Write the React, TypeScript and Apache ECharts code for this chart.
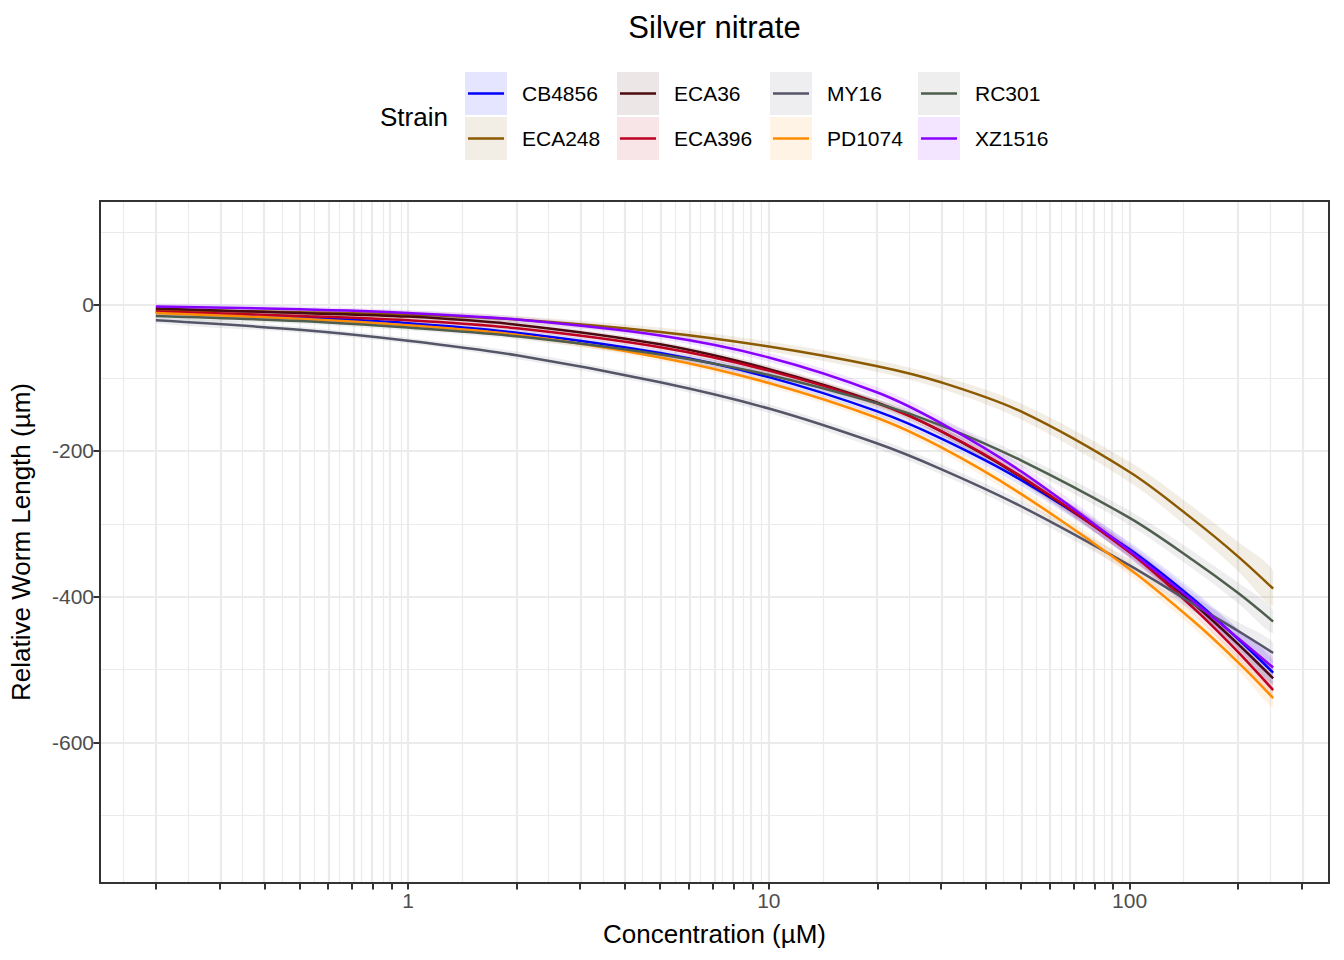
import React, { useEffect, useRef } from "react";
import * as echarts from "echarts";

// ---- data ----
const concentrations = [0.2, 0.5, 1, 2, 5, 10, 20, 30, 50, 100, 150, 200, 250];

const strains = ["CB4856", "ECA248", "ECA36", "ECA396", "MY16", "PD1074", "RC301", "XZ1516"];
const strainColors = ["#0000FF", "#8B5A00", "#4A0A10", "#BE0022", "#555568", "#FF8C00", "#4E5D4E", "#8800FF"];

const CB4856 = [-10, -17, -25, -38, -66, -99, -146, -183, -240, -335, -403, -458, -504];
const ECA248 = [-7, -10, -13, -20, -37, -57, -84, -106, -146, -229, -294, -345, -389];
const ECA36 = [-5, -11, -16, -27, -54, -88, -134, -173, -236, -338, -409, -465, -512];
const ECA396 = [-9, -15, -21, -32, -58, -90, -135, -173, -235, -339, -415, -476, -528];
const MY16 = [-21, -34, -49, -69, -106, -142, -190, -225, -276, -357, -410, -447, -477];
const PD1074 = [-11, -19, -28, -41, -72, -107, -155, -195, -259, -362, -433, -490, -539];
const RC301 = [-15, -22, -31, -43, -68, -96, -135, -165, -213, -292, -350, -395, -434];
const XZ1516 = [-2, -6, -11, -20, -42, -72, -120, -162, -228, -337, -406, -457, -497];

// confidence band half-widths (µm)
const bandCB4856 = [4, 4, 4, 4, 5, 6, 6, 7, 8, 10, 12, 14, 16];
const bandECA248 = [5, 5, 5, 5, 6, 7, 8, 9, 11, 14, 17, 20, 24];
const bandECA36 = [4, 4, 4, 4, 4, 5, 5, 6, 7, 8, 9, 10, 11];
const bandECA396 = [4, 4, 4, 4, 4, 5, 5, 6, 7, 8, 9, 10, 11];
const bandMY16 = [4, 4, 4, 5, 5, 6, 7, 7, 8, 9, 10, 12, 14];
const bandPD1074 = [4, 4, 4, 4, 5, 5, 6, 7, 8, 9, 10, 11, 13];
const bandRC301 = [4, 4, 4, 4, 5, 5, 6, 7, 8, 10, 12, 14, 16];
const bandXZ1516 = [4, 4, 4, 4, 5, 6, 7, 8, 9, 10, 11, 12, 14];

const strainValues = [CB4856, ECA248, ECA36, ECA396, MY16, PD1074, RC301, XZ1516];
const strainBands = [bandCB4856, bandECA248, bandECA36, bandECA396, bandMY16, bandPD1074, bandRC301, bandXZ1516];

// axis breaks
const xBreaks = [0.2, 0.3, 0.4, 0.5, 0.6, 0.7, 0.8, 0.9, 1, 2, 3, 4, 5, 6, 7, 8, 9, 10, 20, 30, 40, 50, 60, 70, 80, 90, 100, 200, 300];
const xLabelValues = [1, 10, 100];
const xLabelText = ["1", "10", "100"];
const yBreaks = [-600, -400, -200, 0];
const yLabelText = ["-600", "-400", "-200", "0"];
const yMinorBreaks = [-700, -500, -300, -100, 100];
const yLimits = [-750, 100];

const FONT = "'Liberation Sans', Arial, Helvetica, sans-serif";
const SMOOTH = 0.33;

function rgba(hex: string, a: number) {
  const h = hex.replace("#", "");
  const r = parseInt(h.slice(0, 2), 16);
  const g = parseInt(h.slice(2, 4), 16);
  const b = parseInt(h.slice(4, 6), 16);
  return `rgba(${r},${g},${b},${a})`;
}

export default function App() {
  const ref = useRef<HTMLDivElement>(null);

  useEffect(() => {
    const el = ref.current!;
    const chart = echarts.init(el, null, { renderer: "svg" });

    const GRID = { left: 100, top: 201, right: 15, bottom: 77 };
    const W = 1344;
    const H = 960;

    const lx = concentrations.map((c) => Math.log10(c));
    const xLo = lx[0];
    const xHi = lx[lx.length - 1];
    const xExp = (xHi - xLo) * 0.05;
    const xMin = xLo - xExp;
    const xMax = xHi + xExp;
    const yExp = (yLimits[1] - yLimits[0]) * 0.05;
    const yMin = yLimits[0] - yExp;
    const yMax = yLimits[1] + yExp;

    const xMajor = xBreaks.map((b) => Math.log10(b));
    // minor breaks: midpoints between majors (incl. one extended break each side)
    const ext = [xMajor[0] - (xMajor[1] - xMajor[0]), ...xMajor, xMajor[xMajor.length - 1] + (xMajor[xMajor.length - 1] - xMajor[xMajor.length - 2])];
    const xMinor: number[] = [];
    for (let i = 0; i < ext.length - 1; i++) {
      const m = (ext[i] + ext[i + 1]) / 2;
      if (m > xMin && m < xMax) xMinor.push(m);
    }

    const gridColor = "#EBEBEB";
    const markData: any[] = [
      ...xMinor.map((v) => ({ xAxis: v, lineStyle: { color: gridColor, width: 1.2, type: "solid" } })),
      ...yMinorBreaks.map((v) => ({ yAxis: v, lineStyle: { color: gridColor, width: 1.2, type: "solid" } })),
      ...xMajor.map((v) => ({ xAxis: v, lineStyle: { color: gridColor, width: 2.2, type: "solid" } })),
      ...yBreaks.map((v) => ({ yAxis: v, lineStyle: { color: gridColor, width: 2.2, type: "solid" } })),
    ];

    const series: any[] = [
      {
        type: "line",
        name: "grid",
        data: [[xMin, yMin]],
        symbol: "none",
        showSymbol: false,
        lineStyle: { width: 0, opacity: 0 },
        silent: true,
        z: 1,
        markLine: {
          z: 1,
          silent: true,
          animation: false,
          symbol: ["none", "none"],
          label: { show: false },
          emphasis: { disabled: true },
          data: markData,
        },
      },
    ];

    strains.forEach((s, i) => {
      const vals = strainValues[i];
      const band = strainBands[i];
      const color = strainColors[i];
      series.push({
        type: "custom",
        name: s + " CI",
        z: 2,
        silent: true,
        clip: true,
        data: concentrations.map((c, j) => [Math.log10(c), vals[j] - band[j], vals[j] + band[j]]),
        encode: { x: 0, y: [1, 2] },
        renderItem: (params: any, api: any) => {
          if (params.dataIndex !== 0) return null;
          const up = concentrations.map((c, j) => api.coord([Math.log10(c), vals[j] + band[j]]));
          const lo = concentrations.map((c, j) => api.coord([Math.log10(c), vals[j] - band[j]])).reverse();
          const pts = up.concat(lo);
          let x0 = Infinity, y0 = Infinity, x1 = -Infinity, y1 = -Infinity;
          pts.forEach((p: number[]) => {
            x0 = Math.min(x0, p[0]); y0 = Math.min(y0, p[1]);
            x1 = Math.max(x1, p[0]); y1 = Math.max(y1, p[1]);
          });
          return {
            type: "polygon",
            shape: { points: pts, smooth: SMOOTH, smoothConstraint: [[x0, y0], [x1, y1]] },
            style: { fill: rgba(color, 0.1) },
          };
        },
      });
    });

    strains.forEach((s, i) => {
      const vals = strainValues[i];
      const color = strainColors[i];
      series.push({
        type: "line",
        name: s,
        z: 3,
        silent: true,
        smooth: SMOOTH,
        symbol: "none",
        showSymbol: false,
        data: concentrations.map((c, j) => [Math.log10(c), vals[j]]),
        lineStyle: { color, width: 2.5 },
        itemStyle: { color },
      });
    });

    // legend drawn as graphic (column-major, 2 rows)
    const keyX = [465, 617, 770, 918];
    const keyY = [72, 117];
    const keyW = 42;
    const keyH = 43;
    const legendChildren: any[] = [];
    strains.forEach((s, i) => {
      const col = Math.floor(i / 2);
      const row = i % 2;
      const x = keyX[col];
      const y = keyY[row];
      const cy = y + keyH / 2;
      legendChildren.push({
        type: "rect",
        shape: { x, y, width: keyW, height: keyH },
        style: { fill: rgba(strainColors[i], 0.1) },
        silent: true,
      });
      legendChildren.push({
        type: "line",
        shape: { x1: x + 3, y1: cy, x2: x + keyW - 3, y2: cy },
        style: { stroke: strainColors[i], lineWidth: 2.5 },
        silent: true,
      });
      legendChildren.push({
        type: "text",
        style: {
          text: s,
          x: x + 57,
          y: cy,
          fill: "#000000",
          fontSize: 21,
          fontFamily: FONT,
          align: "left",
          verticalAlign: "middle",
        },
        silent: true,
      });
    });

    const option: any = {
      animation: false,
      backgroundColor: "#FFFFFF",
      textStyle: { fontFamily: FONT },
      grid: { left: GRID.left, top: GRID.top, right: GRID.right, bottom: GRID.bottom, containLabel: false, show: false },
      xAxis: {
        type: "value",
        min: xMin,
        max: xMax,
        name: "Concentration (µM)",
        nameLocation: "middle",
        nameGap: 38,
        nameTextStyle: { color: "#000000", fontSize: 26, fontFamily: FONT },
        axisLine: { show: false, onZero: false },
        splitLine: { show: false },
        axisTick: {
          show: true,
          customValues: xMajor,
          length: 6.6,
          lineStyle: { color: "#333333", width: 2 },
        },
        axisLabel: {
          show: true,
          customValues: xLabelValues.map((v) => Math.log10(v)),
          color: "#4D4D4D",
          fontSize: 21,
          fontFamily: FONT,
          margin: 7,
          formatter: (v: number) => {
            const k = xLabelValues.findIndex((c) => Math.abs(Math.log10(c) - v) < 1e-6);
            return k >= 0 ? xLabelText[k] : "";
          },
        },
      },
      yAxis: {
        type: "value",
        min: yMin,
        max: yMax,
        name: "Relative Worm Length (µm)",
        nameLocation: "middle",
        nameGap: 66,
        nameTextStyle: { color: "#000000", fontSize: 26, fontFamily: FONT },
        axisLine: { show: false, onZero: false },
        splitLine: { show: false },
        axisTick: {
          show: true,
          customValues: yBreaks,
          length: 6.6,
          lineStyle: { color: "#333333", width: 2 },
        },
        axisLabel: {
          show: true,
          customValues: yBreaks,
          color: "#4D4D4D",
          fontSize: 21,
          fontFamily: FONT,
          margin: 6,
          formatter: (v: number) => {
            const k = yBreaks.findIndex((b) => Math.abs(b - v) < 1e-6);
            return k >= 0 ? yLabelText[k] : "";
          },
        },
      },
      series,
      graphic: [
        {
          type: "rect",
          z: 100,
          silent: true,
          shape: { x: GRID.left, y: GRID.top, width: W - GRID.left - GRID.right, height: H - GRID.top - GRID.bottom },
          style: { fill: "none", stroke: "#333333", lineWidth: 2 },
        },
        {
          type: "text",
          z: 100,
          silent: true,
          style: {
            text: "Silver nitrate",
            x: GRID.left + (W - GRID.left - GRID.right) / 2,
            y: 27,
            fill: "#000000",
            fontSize: 31,
            fontFamily: FONT,
            align: "center",
            verticalAlign: "middle",
          },
        },
        {
          type: "text",
          z: 100,
          silent: true,
          style: {
            text: "Strain",
            x: 380,
            y: 117,
            fill: "#000000",
            fontSize: 26,
            fontFamily: FONT,
            align: "left",
            verticalAlign: "middle",
          },
        },
        { type: "group", z: 100, silent: true, children: legendChildren },
      ],
    };

    chart.setOption(option);
    return () => chart.dispose();
  }, []);

  return (
    <div
      ref={ref}
      style={{ position: "absolute", left: 0, top: 0, width: 1344, height: 960, background: "#FFFFFF" }}
    />
  );
}
